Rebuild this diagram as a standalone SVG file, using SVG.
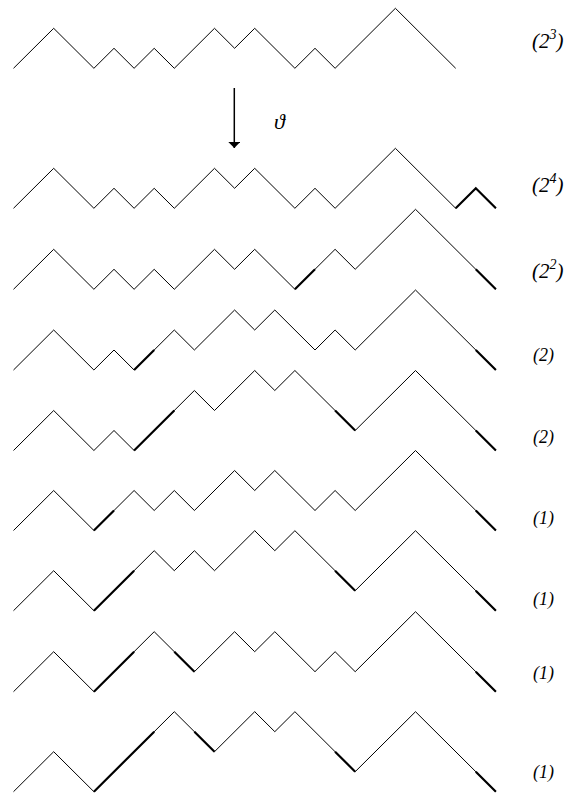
<svg xmlns="http://www.w3.org/2000/svg" width="573" height="795" viewBox="0 0 573 795">
<style>
.p{fill:none;stroke:#000;stroke-width:1;stroke-linejoin:miter}
.t{fill:none;stroke:#000;stroke-width:2.2;stroke-linecap:butt}
.lb{font-family:"Liberation Serif","DejaVu Serif",serif;font-style:italic;font-size:18px;fill:#000}
.lp{font-size:21px}
.sp{font-size:14px}
</style>
<defs>
<marker id="ah" viewBox="0 0 6 12" refX="6" refY="6" markerWidth="6" markerHeight="12" markerUnits="userSpaceOnUse" orient="auto">
<path d="M0 0 L6 6 L0 12 Z" fill="#000"/>
</marker>
</defs>
<rect width="573" height="795" fill="#fff"/>
<g id="row1" transform="translate(0,68.3)">
<path class="p" d="M13.5 0 L53.7 -40 L93.9 0 L114 -20 L134.1 0 L154.2 -20 L174.3 0 L214.5 -40 L234.6 -20 L254.7 -40 L294.9 0 L315 -20 L335.1 0 L395.4 -60 L455.7 0"/>
<text class="lb lp" x="532" y="-20">(2<tspan class="sp" dy="-9">3</tspan><tspan dy="9">)</tspan></text>
</g>
<g id="row2" transform="translate(0,208.3)">
<path class="p" d="M13.5 0 L53.7 -40 L93.9 0 L114 -20 L134.1 0 L154.2 -20 L174.3 0 L214.5 -40 L234.6 -20 L254.7 -40 L294.9 0 L315 -20 L335.1 0 L395.4 -60 L455.7 0 L475.8 -20 L495.9 0"/>
<path class="t" d="M455.7 0 L475.8 -20 L495.9 0"/>
<text class="lb lp" x="532" y="-16">(2<tspan class="sp" dy="-9">4</tspan><tspan dy="9">)</tspan></text>
</g>
<g id="row3" transform="translate(0,289.3)">
<path class="p" d="M13.5 0 L53.7 -40 L93.9 0 L114 -20 L134.1 0 L154.2 -20 L174.3 0 L214.5 -40 L234.6 -20 L254.7 -40 L294.9 0 L335.1 -40 L355.2 -20 L415.5 -80 L495.9 0"/>
<path class="t" d="M294.9 0 L315 -20 M475.8 -20 L495.9 0"/>
<text class="lb lp" x="532" y="-11">(2<tspan class="sp" dy="-9">2</tspan><tspan dy="9">)</tspan></text>
</g>
<g id="row4" transform="translate(0,370)">
<path class="p" d="M13.5 0 L53.7 -40 L93.9 0 L114 -20 L134.1 0 L174.3 -40 L194.4 -20 L234.6 -60 L254.7 -40 L274.8 -60 L315 -20 L335.1 -40 L355.2 -20 L415.5 -80 L495.9 0"/>
<path class="t" d="M134.1 0 L154.2 -20 M475.8 -20 L495.9 0"/>
<text class="lb" x="533" y="-9">(2)</text>
</g>
<g id="row5" transform="translate(0,450.5)">
<path class="p" d="M13.5 0 L53.7 -40 L93.9 0 L114 -20 L134.1 0 L194.4 -60 L214.5 -40 L254.7 -80 L274.8 -60 L294.9 -80 L355.2 -20 L415.5 -80 L495.9 0"/>
<path class="t" d="M134.1 0 L174.3 -40 M335.1 -40 L355.2 -20 M475.8 -20 L495.9 0"/>
<text class="lb" x="533" y="-8">(2)</text>
</g>
<g id="row6" transform="translate(0,530.5)">
<path class="p" d="M13.5 0 L53.7 -40 L93.9 0 L134.1 -40 L154.2 -20 L174.3 -40 L194.4 -20 L234.6 -60 L254.7 -40 L274.8 -60 L315 -20 L335.1 -40 L355.2 -20 L415.5 -80 L495.9 0"/>
<path class="t" d="M93.9 0 L114 -20 M475.8 -20 L495.9 0"/>
<text class="lb" x="533" y="-7">(1)</text>
</g>
<g id="row7" transform="translate(0,610.7)">
<path class="p" d="M13.5 0 L53.7 -40 L93.9 0 L154.2 -60 L174.3 -40 L194.4 -60 L214.5 -40 L254.7 -80 L274.8 -60 L294.9 -80 L355.2 -20 L415.5 -80 L495.9 0"/>
<path class="t" d="M93.9 0 L134.1 -40 M335.1 -40 L355.2 -20 M475.8 -20 L495.9 0"/>
<text class="lb" x="533" y="-6">(1)</text>
</g>
<g id="row8" transform="translate(0,691.7)">
<path class="p" d="M13.5 0 L53.7 -40 L93.9 0 L154.2 -60 L194.4 -20 L234.6 -60 L254.7 -40 L274.8 -60 L315 -20 L335.1 -40 L355.2 -20 L415.5 -80 L495.9 0"/>
<path class="t" d="M93.9 0 L134.1 -40 M174.3 -40 L194.4 -20 M475.8 -20 L495.9 0"/>
<text class="lb" x="533" y="-13">(1)</text>
</g>
<g id="row9" transform="translate(0,791.7)">
<path class="p" d="M13.5 0 L53.7 -40 L93.9 0 L174.3 -80 L214.5 -40 L254.7 -80 L274.8 -60 L294.9 -80 L355.2 -20 L415.5 -80 L495.9 0"/>
<path class="t" d="M93.9 0 L154.2 -60 M194.4 -60 L214.5 -40 M335.1 -40 L355.2 -20 M475.8 -20 L495.9 0"/>
<text class="lb" x="533" y="-14">(1)</text>
</g>
<g id="connectors">
<line x1="234.3" y1="88" x2="234.3" y2="148" stroke="#000" stroke-width="1.5" marker-end="url(#ah)"/>
<text class="lb" x="274" y="129" style="font-size:22px">ϑ</text>
</g>
</svg>
